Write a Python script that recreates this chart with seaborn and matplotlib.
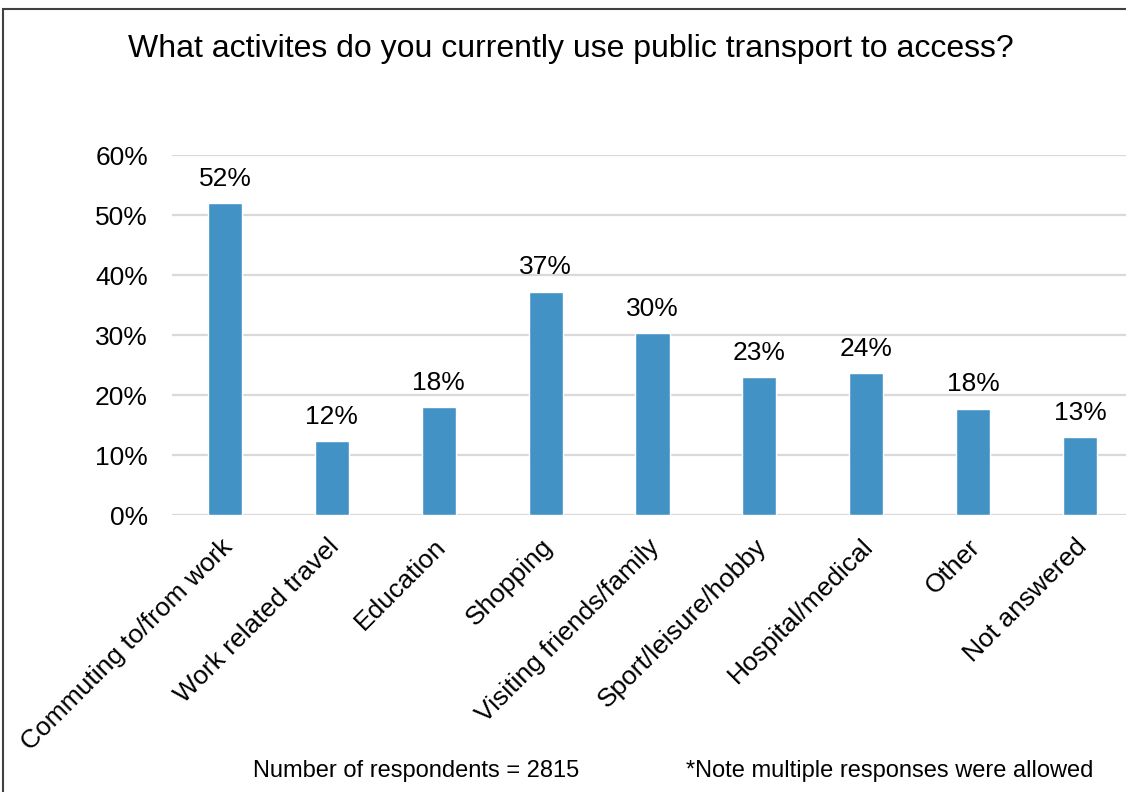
import matplotlib
matplotlib.use("Agg")
import matplotlib.pyplot as plt
from matplotlib.patches import Rectangle
from matplotlib.ticker import FuncFormatter, MultipleLocator
from matplotlib.transforms import ScaledTranslation
import seaborn as sns

# Survey results: share of respondents using public transport for each activity
categories = [
    "Commuting to/from work",
    "Work related travel",
    "Education",
    "Shopping",
    "Visiting friends/family",
    "Sport/leisure/hobby",
    "Hospital/medical",
    "Other",
    "Not answered",
]
shares = [52.0, 12.3, 18.0, 37.2, 30.3, 23.0, 23.6, 17.7, 13.0]

title = "What activites do you currently use public transport to access?"
respondents_note = "Number of respondents = 2815"
multi_note = "*Note multiple responses were allowed"

bar_color = "#4292c6"
grid_color = "#d9d9d9"
text_color = "#000000"

sns.set_theme(style="white")
plt.rcParams["font.family"] = ["Liberation Sans", "DejaVu Sans"]

fig = plt.figure(figsize=(11.26, 7.92), dpi=100)
ax = fig.add_axes([0.1524, 0.3497, 0.8542, 0.4545])

sns.barplot(x=categories, y=shares, color=bar_color, saturation=1,
            width=0.32, ax=ax, zorder=3)

ax.set_ylim(0, 60)
ax.set_xlim(-0.5, len(categories) - 0.5)
ax.yaxis.set_major_locator(MultipleLocator(10))
ax.yaxis.set_major_formatter(FuncFormatter(lambda v, _: f"{v:.0f}%"))
ax.grid(axis="y", color=grid_color, linewidth=1.6, zorder=0)
ax.set_axisbelow(True)
for side in ax.spines.values():
    side.set_visible(False)
ax.tick_params(axis="both", length=0, labelsize=19, colors=text_color)
ax.tick_params(axis="y", pad=17)
ax.set_xlabel("")
ax.set_ylabel("")

ax.set_xticks(range(len(categories)))
ax.set_xticklabels(categories, rotation=45, ha="right", va="top",
                   rotation_mode="anchor", fontsize=19)
ax.tick_params(axis="x", pad=14)
nudge = ScaledTranslation(-5 / 100, 0, fig.dpi_scale_trans)
for lbl in ax.get_xticklabels():
    lbl.set_transform(lbl.get_transform() + nudge)

ax.bar_label(ax.containers[0], labels=[f"{v:.0f}%" for v in shares],
             padding=9, fontsize=19, color=text_color)

fig.text(0.507, 0.938, title, ha="center", va="center", fontsize=23,
         color=text_color)
fig.text(0.370, 0.027, respondents_note, ha="center", va="center",
         fontsize=17, color=text_color)
fig.text(0.790, 0.027, multi_note, ha="center", va="center",
         fontsize=17, color=text_color)

# Chart frame
fig.patches.append(Rectangle((3 / 1126, -0.05), 1.2, 0.9886 + 0.05,
                             transform=fig.transFigure, fill=False,
                             edgecolor="#404040", linewidth=1.5))

fig.savefig("out.png", dpi=100, facecolor="white")
